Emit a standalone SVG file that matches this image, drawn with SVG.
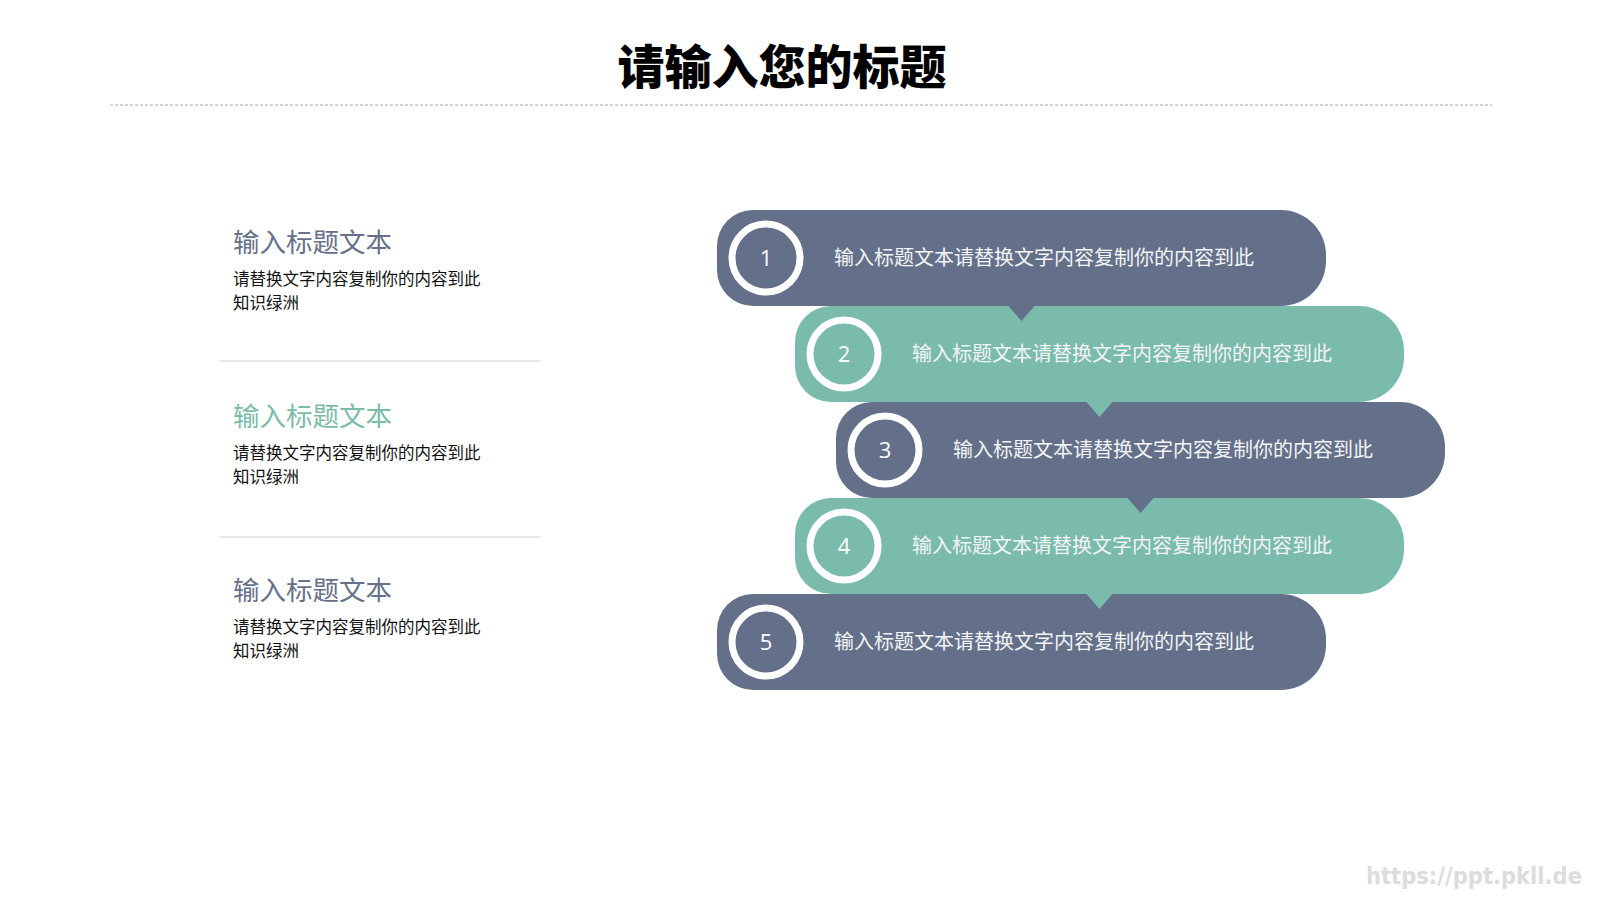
<svg xmlns="http://www.w3.org/2000/svg" width="1600" height="900" viewBox="0 0 1600 900">
<defs>
<style>
.blue{fill:#647089}
.green{fill:#7bbbab}
.ring{fill:none;stroke:#ffffff;stroke-width:7}
.num{font-family:"Open Sans","Liberation Sans",sans-serif;font-size:22px;fill:#ffffff;text-anchor:middle}
.bt{font-family:"Liberation Serif","Noto Sans CJK SC",serif;font-size:20px;fill:#f2f4f6}
.lt{font-family:"Liberation Serif","Noto Sans CJK SC",serif;font-size:26.5px}
.lb{font-family:"Liberation Sans","Noto Sans CJK SC",sans-serif;font-size:16.5px;fill:#111111}
.sep{stroke:#d0d0d0;stroke-width:1}
</style>
<path id="barP" d="M36,0 H564 A45,45 0 0 1 609,45 V51 A45,45 0 0 1 564,96 H317.5 L304.5,111 L291.5,96 H36 A36,36 0 0 1 0,60 V36 A36,36 0 0 1 36,0 Z"/>
<path id="barN" d="M36,0 H564 A45,45 0 0 1 609,45 V51 A45,45 0 0 1 564,96 H36 A36,36 0 0 1 0,60 V36 A36,36 0 0 1 36,0 Z"/>
</defs>
<rect width="1600" height="900" fill="#ffffff"/>
<g id="title">
<text x="782" y="84" text-anchor="middle" style="font-family:'Noto Sans CJK SC',sans-serif;font-weight:900;font-size:47px;fill:#000">请输入您的标题</text>
<line x1="110" y1="105" x2="1492" y2="105" stroke="#a8a8a8" stroke-width="1" stroke-dasharray="3,2"/>
</g>
<g id="left1">
<text x="233" y="252" class="lt" fill="#667189">输入标题文本</text>
<text x="233" y="285" class="lb">请替换文字内容复制你的内容到此</text>
<text x="233" y="309" class="lb">知识绿洲</text>
</g>
<line class="sep" x1="219" y1="361" x2="541" y2="361"/>
<g id="left2">
<text x="233" y="426" class="lt" fill="#7bbbab">输入标题文本</text>
<text x="233" y="459" class="lb">请替换文字内容复制你的内容到此</text>
<text x="233" y="483" class="lb">知识绿洲</text>
</g>
<line class="sep" x1="219" y1="537" x2="541" y2="537"/>
<g id="left3">
<text x="233" y="600" class="lt" fill="#667189">输入标题文本</text>
<text x="233" y="633" class="lb">请替换文字内容复制你的内容到此</text>
<text x="233" y="657" class="lb">知识绿洲</text>
</g>
<g id="step5" transform="translate(717,594)">
<use href="#barN" class="blue"/>
<circle cx="49" cy="48" r="34" class="ring"/>
<text x="49" y="56" class="num">5</text>
<text x="117" y="55" class="bt">输入标题文本请替换文字内容复制你的内容到此</text>
</g>
<g id="step4" transform="translate(795,498)">
<use href="#barP" class="green"/>
<circle cx="49" cy="48" r="34" class="ring"/>
<text x="49" y="56" class="num">4</text>
<text x="117" y="55" class="bt">输入标题文本请替换文字内容复制你的内容到此</text>
</g>
<g id="step3" transform="translate(836,402)">
<use href="#barP" class="blue"/>
<circle cx="49" cy="48" r="34" class="ring"/>
<text x="49" y="56" class="num">3</text>
<text x="117" y="55" class="bt">输入标题文本请替换文字内容复制你的内容到此</text>
</g>
<g id="step2" transform="translate(795,306)">
<use href="#barP" class="green"/>
<circle cx="49" cy="48" r="34" class="ring"/>
<text x="49" y="56" class="num">2</text>
<text x="117" y="55" class="bt">输入标题文本请替换文字内容复制你的内容到此</text>
</g>
<g id="step1" transform="translate(717,210)">
<use href="#barP" class="blue"/>
<circle cx="49" cy="48" r="34" class="ring"/>
<text x="49" y="56" class="num">1</text>
<text x="117" y="55" class="bt">输入标题文本请替换文字内容复制你的内容到此</text>
</g>
<text x="1366" y="884" textLength="216" lengthAdjust="spacingAndGlyphs" style="font-family:'DejaVu Sans',sans-serif;font-weight:bold;font-size:23px;fill:#dcdcdc">https://ppt.pkll.de</text>
</svg>
